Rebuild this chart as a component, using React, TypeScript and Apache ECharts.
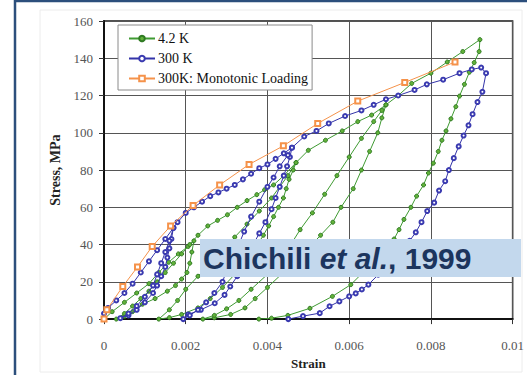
import React, { useEffect, useRef } from "react";
import * as echarts from "echarts";

// ---------- data (strain, stress in MPa) ----------
// 4.2 K
const g42Load1 = [[0,0],[0.0002,4],[0.0005,9],[0.0008,14],[0.0011,19],[0.00134,25],[0.00158,30.5],[0.00182,35],[0.00206,39],[0.0022,42]];
const g42Unload1 = [[0.00215,36],[0.0021,30],[0.00203,25],[0.0019,21.5],[0.00175,18],[0.00155,15],[0.00125,11],[0.00094,8],[0.0007,4],[0.0005,1.5],[0.0003,0]];
const g42Reload1 = [[0.0005,3],[0.0007,7],[0.0009,11],[0.0011,15],[0.0013,20],[0.0015,25],[0.0017,30],[0.0019,35],[0.0021,40],[0.0023,45]];
const g42Env2 = [[0.00254,50],[0.00278,53],[0.00302,56],[0.00326,60],[0.0035,63.6],[0.00374,66.8],[0.00393,69.4],[0.00415,72],[0.0044,77],[0.0047,84]];
const g42Unload2 = [[0.00463,80],[0.00453,75],[0.00446,70],[0.00439,65],[0.00427,60],[0.00415,55],[0.00403,50],[0.0039,45],[0.0037,38],[0.0035,31],[0.0032,24],[0.0029,17],[0.0026,11],[0.0023,6],[0.0019,2.5],[0.0016,0.8],[0.00134,0]];
const g42Reload2 = [[0.0016,5],[0.0018,10],[0.002,16],[0.0023,23],[0.0026,30],[0.0029,37],[0.0032,44],[0.0035,51],[0.0038,58],[0.0041,65],[0.0043,71],[0.0045,77],[0.0047,84]];
const g42Env3 = [[0.005,90.6],[0.00542,96],[0.00583,101],[0.00621,106],[0.00655,109.5],[0.0069,115]];
const g42Unload3 = [[0.0068,108],[0.0067,100],[0.0065,90],[0.0063,80],[0.0061,70],[0.0058,60],[0.0056,52],[0.0053,45],[0.005,38],[0.0047,31],[0.00434,24],[0.004,17],[0.0037,11],[0.00345,6],[0.0031,2.5],[0.0027,0.7],[0.00242,0]];
const g42Reload3 = [[0.0027,2],[0.003,5.5],[0.0033,10],[0.0036,16],[0.004,24],[0.0043,32],[0.0046,41],[0.0048,48],[0.0051,57],[0.0054,67],[0.0057,77],[0.006,87],[0.0063,97],[0.0066,106],[0.0068,112],[0.0069,115]];
const g42Env4 = [[0.0072,120],[0.00753,126.5],[0.008,132],[0.0084,138],[0.00878,143.6],[0.0092,150]];
const g42Unload4 = [[0.00918,143.6],[0.00906,137.7],[0.00894,132.5],[0.00882,126],[0.0087,119.7],[0.00861,114],[0.00849,107.5],[0.00837,101],[0.00827,96],[0.00818,90],[0.00806,83.7],[0.00794,78.4],[0.00782,72],[0.00765,66],[0.00751,60],[0.00734,53.5],[0.00722,48],[0.0071,43],[0.0069,37],[0.0067,31],[0.00631,24.4],[0.00604,18.5],[0.00559,12.2],[0.00504,5.8],[0.0045,2],[0.0041,0.5],[0.00379,0]];

// 300 K
const b300Load1 = [[0,3],[0.0001,6],[0.0003,10],[0.0005,14],[0.0007,19],[0.0009,25],[0.0011,31],[0.0013,37],[0.0015,43],[0.0017,49]];
const b300Unload1 = [[0.00165,43],[0.0016,38],[0.00155,33],[0.0015,28],[0.0014,23],[0.0013,18],[0.0012,14],[0.001,9],[0.0008,5],[0.0006,2],[0.0004,0.5]];
const b300Reload1 = [[0.0006,3],[0.0008,7],[0.001,12],[0.0012,18],[0.0013,24],[0.0014,30],[0.0015,36],[0.0016,42],[0.0017,49]];
const b300Env2 = [[0.0018,52],[0.002,57],[0.0022,60],[0.0024,63],[0.0026,66],[0.0028,68],[0.003,70],[0.0032,72],[0.0034,75],[0.0036,78],[0.0038,81],[0.004,83],[0.0042,86],[0.0044,89],[0.0046,92]];
const b300Unload2 = [[0.00455,87],[0.00448,82],[0.0044,77],[0.0043,71],[0.0042,65],[0.0041,59],[0.00395,52],[0.0038,46],[0.0036,38],[0.0034,30],[0.00326,23],[0.00309,17.5],[0.00295,13],[0.00271,8.5],[0.00237,5],[0.00206,2.5],[0.00194,0]];
const b300Reload2 = [[0.0021,2],[0.0023,5],[0.0025,9],[0.0027,14],[0.0029,20],[0.003,26],[0.0031,32],[0.0033,40],[0.00343,47],[0.0036,55],[0.0038,63],[0.004,71],[0.00415,76],[0.0043,82],[0.0045,88],[0.0046,92]];
const b300Env3 = [[0.0049,98],[0.0052,101],[0.0055,105],[0.0059,109],[0.0063,112],[0.0066,115],[0.0069,118],[0.0072,120],[0.0076,123],[0.0079,126],[0.0083,128.5],[0.0087,132],[0.009,134],[0.00923,135],[0.00935,132]];
const b300Unload3 = [[0.00926,122],[0.00914,116.5],[0.00902,110],[0.00892,104],[0.0088,98.5],[0.00868,92.7],[0.00856,86.4],[0.00844,80],[0.00835,74],[0.0082,69],[0.00808,62.5],[0.00791,58],[0.00777,52],[0.00763,46.6],[0.00748,42],[0.0073,37],[0.0071,32],[0.0069,27.5],[0.00671,23.8],[0.00647,18.5],[0.00631,15.9],[0.00616,13.8],[0.006,12.2],[0.00576,9.5],[0.00552,6.9],[0.00528,3.2],[0.00487,1.6],[0.00451,0]];

// 300 K monotonic loading
const o300Mono = [[0,0],[0.00007,5],[0.00046,17.5],[0.00082,28],[0.00118,39],[0.00163,50],[0.00218,61],[0.00283,72],[0.00355,83],[0.00439,93],[0.00523,105],[0.00621,117],[0.00736,127],[0.00859,138]];

const seriesNames = ["4.2 K", "300 K", "300K: Monotonic Loading"];
const xTicks = { min: 0, max: 0.01, interval: 0.002 };
const yTicks = { min: 0, max: 160, interval: 20 };
const annotation = "Chichili et al., 1999";

const green42 = [
  ...g42Load1, ...g42Unload1, ...g42Reload1, ...g42Env2, ...g42Unload2, ...g42Reload2,
  ...g42Env3, ...g42Unload3, ...g42Reload3, ...g42Env4, ...g42Unload4,
];
const blue300 = [
  ...b300Load1, ...b300Unload1, ...b300Reload1, ...b300Env2, ...b300Unload2, ...b300Reload2,
  ...b300Env3, ...b300Unload3,
];

const SERIF = "'Liberation Serif', 'Times New Roman', serif";
const SANS = "'Liberation Sans', Arial, sans-serif";

export default function App() {
  const ref = useRef<HTMLDivElement>(null);
  useEffect(() => {
    if (!ref.current) return;
    const chart = echarts.init(ref.current, null, { renderer: "svg" });
    const fmt = (v: number) => (v === 0 ? "0" : String(+v.toFixed(3)));
    chart.setOption({
      animation: false,
      backgroundColor: "#ffffff",
      grid: { left: 104, top: 21, right: 6, bottom: 52, show: true, borderColor: "#1a1a1a", borderWidth: 1.5 },
      legend: {
        orient: "vertical",
        left: 118,
        top: 25,
        data: seriesNames,
        backgroundColor: "#ffffff",
        borderColor: "#8a8a8a",
        borderWidth: 1,
        borderRadius: 0,
        padding: [6, 4, 4, 10],
        itemGap: 5,
        itemWidth: 26,
        itemHeight: 7,
        textStyle: { fontFamily: SERIF, fontSize: 14, color: "#111", lineHeight: 15, padding: [0, 0, 0, -2] },
      },
      xAxis: {
        type: "value",
        ...xTicks,
        name: "Strain",
        nameLocation: "middle",
        nameGap: 37,
        nameTextStyle: { fontFamily: SERIF, fontWeight: "bold", fontSize: 13, color: "#222" },
        axisLine: { show: true, onZero: false, lineStyle: { color: "#111", width: 2 } },
        axisTick: { show: true, length: 5, lineStyle: { color: "#333" } },
        axisLabel: { margin: 20, fontFamily: SERIF, fontSize: 13, color: "#555", formatter: fmt, showMaxLabel: true },
        splitLine: { show: true, lineStyle: { color: "#555", width: 1 } },
      },
      yAxis: {
        type: "value",
        ...yTicks,
        name: "Stress, MPa",
        nameLocation: "middle",
        nameGap: 40,
        nameTextStyle: { fontFamily: SERIF, fontWeight: "bold", fontSize: 14, color: "#222" },
        axisLine: { show: true, onZero: false, lineStyle: { color: "#111", width: 2 } },
        axisTick: { show: true, length: 5, lineStyle: { color: "#333" } },
        axisLabel: { margin: 11, fontFamily: SERIF, fontSize: 13, color: "#555" },
        splitLine: { show: true, lineStyle: { color: "#555", width: 1 } },
      },
      series: [
        {
          name: seriesNames[0],
          type: "line",
          data: green42,
          symbol: "circle",
          symbolSize: 4,
          itemStyle: { color: "#62b23a", borderColor: "#2f7a22", borderWidth: 1 },
          lineStyle: { color: "#3f9a32", width: 1 },
          z: 3,
        },
        {
          name: seriesNames[1],
          type: "line",
          data: blue300,
          symbol: "emptyCircle",
          symbolSize: 4,
          itemStyle: { color: "#3a3ab0", borderWidth: 1.2 },
          lineStyle: { color: "#3333a8", width: 1 },
          z: 4,
        },
        {
          name: seriesNames[2],
          type: "line",
          data: o300Mono,
          symbol: "emptyRect",
          symbolSize: 5,
          itemStyle: { color: "#f5924a", borderWidth: 1.2 },
          lineStyle: { color: "#f5924a", width: 1 },
          z: 5,
        },
      ],
      graphic: [
        {
          type: "rect",
          z: 0,
          silent: true,
          shape: { x: 40, y: 10, width: 482, height: 362 },
          style: { fill: "none", stroke: "#ececec", lineWidth: 1 },
        },
        {
          type: "rect",
          z: 200,
          silent: true,
          shape: { x: 15, y: 1, width: 700, height: 600 },
          style: { fill: "none", stroke: "#2c4f7c", lineWidth: 2.5 },
        },
        {
          type: "rect",
          z: 100,
          silent: true,
          shape: { x: 200, y: 239, width: 321, height: 38 },
          style: { fill: "#c3d8ed" },
        },
        {
          type: "text",
          z: 101,
          silent: true,
          x: 203,
          y: 258,
          style: {
            text: "{b|Chichili }{i|et al.}{b|, 1999}",
            verticalAlign: "middle",
            rich: {
              b: { fontFamily: SANS, fontWeight: "bold", fontSize: 30, fill: "#1c355e" },
              i: { fontFamily: SANS, fontWeight: "bold", fontStyle: "italic", fontSize: 30, fill: "#1c355e" },
            },
          },
        },
      ],
    });
    return () => chart.dispose();
  }, []);
  return (
    <div
      ref={ref}
      aria-label={annotation}
      style={{ position: "fixed", left: 0, top: 0, width: 527, height: 375, background: "#fff" }}
    />
  );
}
